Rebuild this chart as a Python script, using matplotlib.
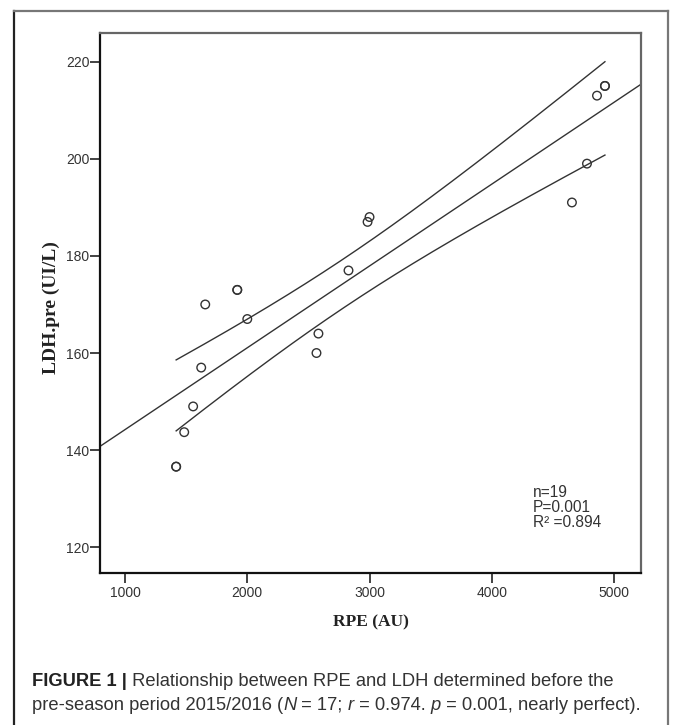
import numpy as np
import matplotlib
matplotlib.use("Agg")
import matplotlib.pyplot as plt
from matplotlib.lines import Line2D

# ---- data ----
rpe = [3000, 2984, 2828, 1918, 1918, 1656, 2000, 4926, 4926, 4861, 4779, 4656,
       1623, 2582, 2566, 1557, 1484, 1418, 1418]
ldh = [188, 187, 177, 173, 173, 170, 167, 215, 215, 213, 199, 191,
       157, 164, 160, 149, 143.7, 136.6, 136.6]
x_ticks = [1000, 2000, 3000, 4000, 5000]
y_ticks = [120, 140, 160, 180, 200, 220]
stats_text = ["n=19", "P=0.001", "R\u00b2 =0.894"]
x_label = "RPE (AU)"
y_label = "LDH.pre (UI/L)"
caption_bold = "FIGURE 1 |"
caption_1 = " Relationship between RPE and LDH determined before the"
t_crit = 2.110  # t(0.975, df=17)

x = np.array(rpe, dtype=float)
y = np.array(ldh, dtype=float)
n = len(x)
b1, b0 = np.polyfit(x, y, 1)
resid = y - (b0 + b1 * x)
s = np.sqrt(np.sum(resid ** 2) / (n - 2))
sxx = np.sum((x - x.mean()) ** 2)

fig = plt.figure(figsize=(6.73, 7.25), dpi=100)
ax = fig.add_axes([100 / 673, 1 - 573 / 725, 541 / 673, 540 / 725])

xlim = (795, 5221)
ylim = (114.7, 225.9)
ax.set_xlim(*xlim)
ax.set_ylim(*ylim)

line_col = "#333333"
xf = np.linspace(xlim[0], xlim[1], 50)
ax.plot(xf, b0 + b1 * xf, color=line_col, lw=1.0)
xb = np.linspace(x.min(), x.max(), 200)
se = s * np.sqrt(1 / n + (xb - x.mean()) ** 2 / sxx)
ax.plot(xb, b0 + b1 * xb + t_crit * se, color=line_col, lw=1.0)
ax.plot(xb, b0 + b1 * xb - t_crit * se, color=line_col, lw=1.0)

ax.scatter(x, y, s=38, facecolors="none", edgecolors="#333333", linewidths=1.0, zorder=3)

tick_font = ["Liberation Sans Narrow", "Liberation Sans", "DejaVu Sans"]
ax.set_xticks(x_ticks)
ax.set_yticks(y_ticks)
ax.set_xticklabels([str(v) for v in x_ticks], family=tick_font, fontsize=10, color="#333333")
ax.set_yticklabels([str(v) for v in y_ticks], family=tick_font, fontsize=10, color="#333333")
ax.tick_params(direction="out", length=7, width=1.2, color="#222222")
ax.tick_params(axis="y", pad=0.5)
ax.tick_params(axis="x", pad=2.5)

for side in ["left", "bottom"]:
    ax.spines[side].set_color("#111111")
    ax.spines[side].set_linewidth(1.6)
for side in ["top", "right"]:
    ax.spines[side].set_color("#666666")
    ax.spines[side].set_linewidth(1.6)

serif = ["Liberation Serif", "DejaVu Serif"]
ax.set_xlabel(x_label, family=serif, fontweight="bold", fontsize=12.5, color="#222222")
ax.set_ylabel(y_label, family=serif, fontweight="bold", fontsize=14, color="#222222")
ax.xaxis.label.set_va("center")
ax.yaxis.label.set_va("center")
ax.xaxis.set_label_coords(0.5, (573 - 622) / 540)
ax.yaxis.set_label_coords((51 - 100) / 541, (573 - 308) / 540)

ax.text(0.800, 0.163, "\n".join(stats_text), transform=ax.transAxes, family=tick_font,
        fontsize=11.2, color="#333333", va="top", ha="left", linespacing=1.0)

# outer frame (open at the bottom)
fl, fr, ft = 14 / 673, 668 / 673, 1 - 11 / 725
fig.add_artist(Line2D([fl, fl], [0, ft], transform=fig.transFigure, color="#222222", lw=1.6))
fig.add_artist(Line2D([fl, fr], [ft, ft], transform=fig.transFigure, color="#777777", lw=1.6))
fig.add_artist(Line2D([fr, fr], [0, ft], transform=fig.transFigure, color="#777777", lw=1.6))

# caption
cap_font = ["Liberation Sans Narrow", "Liberation Sans", "DejaVu Sans"]
cap_size = 13.2
cx = 32 / 673
t1 = fig.text(cx, 1 - 681 / 725, caption_bold, family=cap_font, fontweight="bold",
              fontsize=cap_size, color="#222222", va="center", ha="left")
fig.canvas.draw()
r = fig.canvas.get_renderer()
bb = t1.get_window_extent(r)
fig.text(bb.x1 / fig.bbox.width, 1 - 681 / 725, caption_1, family=cap_font,
         fontsize=cap_size, color="#333333", va="center", ha="left")

parts = [("pre-season period 2015/2016 (", "normal"), ("N", "italic"), (" = 17; ", "normal"),
         ("r", "italic"), (" = 0.974. ", "normal"), ("p", "italic"),
         (" = 0.001, nearly perfect).", "normal")]
xpos = cx * fig.bbox.width
for txt, style in parts:
    tt = fig.text(xpos / fig.bbox.width, 1 - 705 / 725, txt, family=cap_font, style=style,
                  fontsize=cap_size, color="#333333", va="center", ha="left")
    fig.canvas.draw()
    xpos = tt.get_window_extent(r).x1

fig.savefig("out.png", dpi=100)
